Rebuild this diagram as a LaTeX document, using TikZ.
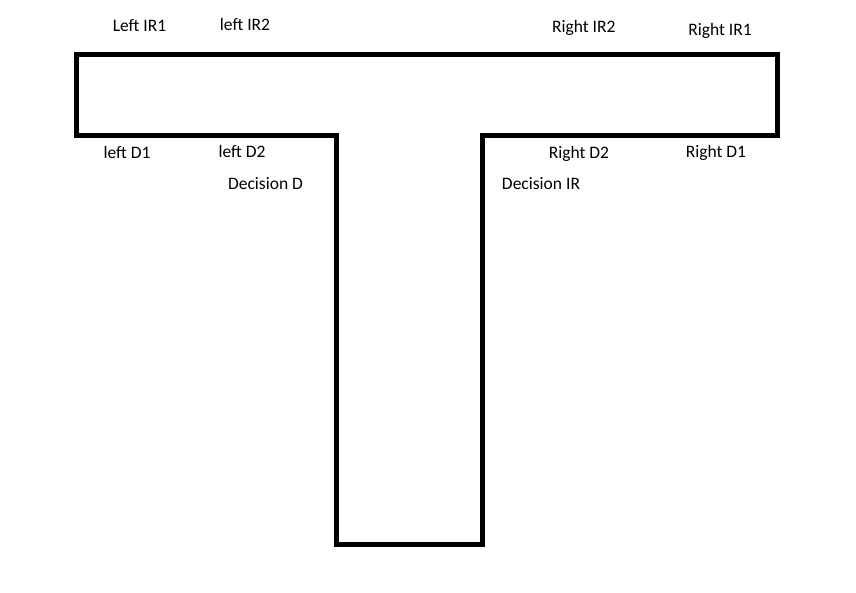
\documentclass[tikz,border=0pt]{standalone}
\usepackage{fontspec}
\setmainfont{Carlito}
\usepackage{tikz}
\usetikzlibrary{positioning}

\begin{document}
\begin{tikzpicture}[x=1pt, y=-1pt, every node/.style={anchor=base, inner sep=0pt, font=\fontsize{17.5}{20}\selectfont}]
          \useasboundingbox (0,0) rectangle (856,593);

          % Forma
          \coordinate (tl) at (76.5,54.5);
          \coordinate (tr) at (777.5,54.5);
          \coordinate (br) at (777.5,135.5);
          \coordinate (jr) at (482.5,135.5);
          \coordinate (sr) at (482.5,544);
          \coordinate (sl) at (336.5,544);
          \coordinate (jl) at (336.5,135.5);
          \coordinate (bl) at (76.5,135.5);
          \draw[line width=5pt, line join=miter] (tl) -- (tr) -- (br) -- (jr) -- (sr) -- (sl) -- (jl) -- (bl) -- cycle;

          % Etiquetas
          \node (lir1) at (139.5,31.7) {Left IR1};
          \node (lir2) at (245,30.7) {left IR2};
          \node (rir2) at (583.7,32.7) {Right IR2};
          \node (rir1) at (720,36) {Right IR1};
          \node (ld1) at (127,159) {left D1};
          \node (ld2) at (242,157.7) {left D2};
          \node (decd) at (265.5,190) {Decision D};
          \node (rd2) at (579,159) {Right D2};
          \node (rd1) at (716,157.3) {Right D1};
          \node (decir) at (541,190) {Decision IR};
        \end{tikzpicture}
\end{document}
